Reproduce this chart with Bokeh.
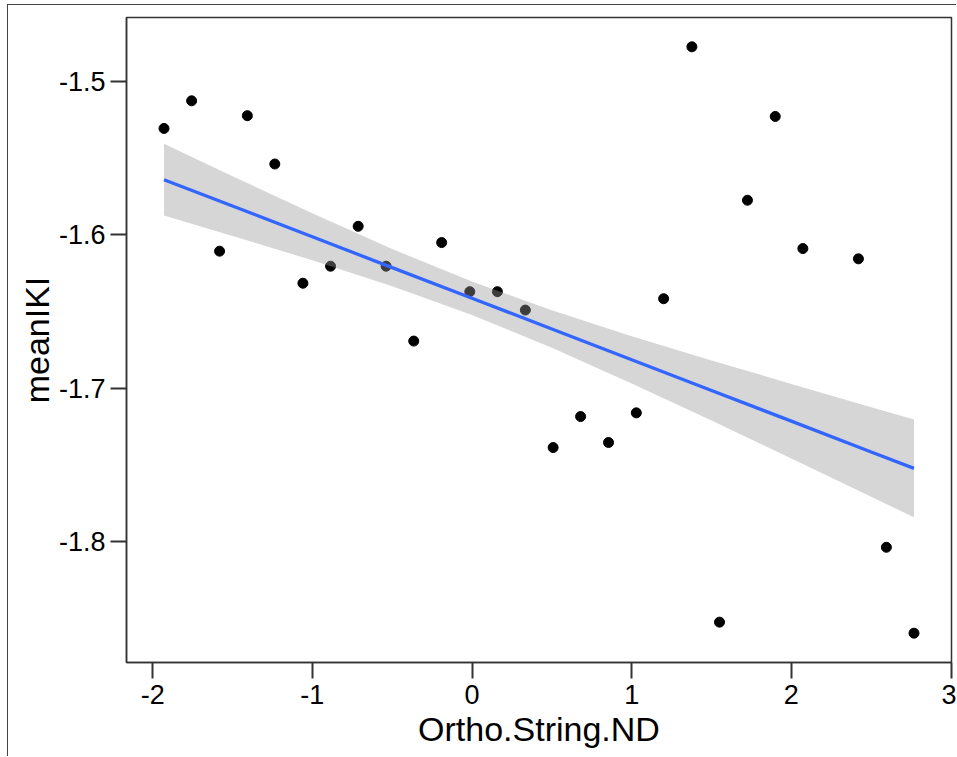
from bokeh.plotting import figure
from bokeh.models import FixedTicker, Range1d, ColumnDataSource
from bokeh.embed import file_html
from bokeh.resources import INLINE

# ---- data ----
ortho_nd = [-1.929, -1.756, -1.581, -1.407, -1.235, -1.059, -0.886, -0.713, -0.538,
            -0.365, -0.190, -0.014, 0.159, 0.334, 0.508, 0.680, 0.855, 1.029,
            1.200, 1.377, 1.550, 1.725, 1.899, 2.072, 2.420, 2.595, 2.768]
mean_iki = [-1.5306, -1.5126, -1.6106, -1.5223, -1.5538, -1.6315, -1.6204, -1.5944, -1.6204,
            -1.6692, -1.6050, -1.6370, -1.6370, -1.6490, -1.7386, -1.7184, -1.7353, -1.7160,
            -1.6416, -1.4774, -1.8524, -1.5774, -1.5228, -1.6089, -1.6156, -1.8036, -1.8596]

# fitted line and confidence band
fit_x = [-1.929, -1.5, -1.0, -0.5, 0.0, 0.5, 1.0, 1.5, 2.0, 2.5, 2.768]
fit_y = [-1.5640, -1.5812, -1.6012, -1.6213, -1.6413, -1.6613, -1.6814, -1.7014, -1.7214, -1.7415, -1.7522]
fit_upper = [-1.5406, -1.5617, -1.5859, -1.6092, -1.6304, -1.6491, -1.6660, -1.6818, -1.6971, -1.7123, -1.7203]
fit_lower = [-1.5874, -1.6007, -1.6165, -1.6334, -1.6522, -1.6735, -1.6968, -1.7210, -1.7457, -1.7707, -1.7841]

x_ticks = [-2, -1, 0, 1, 2, 3]
y_ticks = [-1.8, -1.7, -1.6, -1.5]
x_title = "Ortho.String.ND"
y_title = "meanIKI"

# ---- ranges: data extent with 5% expansion ----
xmin, xmax = min(ortho_nd), max(ortho_nd)
ymin, ymax = min(mean_iki), max(mean_iki)
xp = 0.05 * (xmax - xmin)
yp = 0.05 * (ymax - ymin)

FONT = "Liberation Sans"
AX = "#333333"

p = figure(width=949, height=752, output_backend="svg", toolbar_location=None,
           x_range=Range1d(xmin - xp, xmax + xp), y_range=Range1d(ymin - yp, ymax + yp),
           min_border_left=118, min_border_right=6, min_border_top=12, min_border_bottom=95)
p.styles = {"margin-top": "4px", "margin-left": "7px",
            "border-top": "1px solid #444", "border-left": "1px solid #444"}

p.background_fill_color = "white"
p.border_fill_color = "white"
p.xgrid.visible = False
p.ygrid.visible = False
p.outline_line_color = AX
p.outline_line_width = 1.5

pts = ColumnDataSource(dict(x=ortho_nd, y=mean_iki))
p.scatter("x", "y", source=pts, size=10, color="black")

band = ColumnDataSource(dict(x=fit_x, lo=fit_lower, hi=fit_upper, y=fit_y))
p.varea(x="x", y1="lo", y2="hi", source=band, fill_color="#999999", fill_alpha=0.4)
p.line("x", "y", source=band, line_color="#3366FF", line_width=3.3)

for ax, ticks, title in ((p.xaxis[0], x_ticks, x_title), (p.yaxis[0], y_ticks, y_title)):
    ax.ticker = FixedTicker(ticks=ticks)
    ax.major_label_overrides = {t: str(t) for t in ticks}
    ax.minor_tick_line_color = None
    ax.major_tick_in = 0
    ax.major_tick_out = 16
    ax.major_tick_line_width = 2
    ax.major_tick_line_color = AX
    ax.axis_line_color = AX
    ax.axis_line_width = 1.5
    ax.major_label_text_font = FONT
    ax.major_label_text_font_size = "27px"
    ax.major_label_text_color = "black"
    ax.axis_label = title
    ax.axis_label_text_font = FONT
    ax.axis_label_text_font_size = "34px"
    ax.axis_label_text_font_style = "normal"
    ax.axis_label_text_color = "black"

p.xaxis.major_label_standoff = 6
p.yaxis.major_label_standoff = 5
p.xaxis.axis_label_standoff = 3
p.yaxis.axis_label_standoff = 0

open("out.html", "w").write(file_html(p, INLINE))
